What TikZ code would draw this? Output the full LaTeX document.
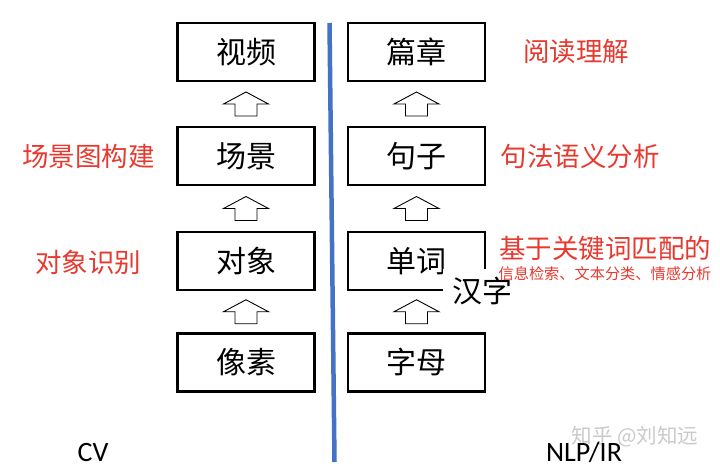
\documentclass[tikz,border=0pt]{standalone}
\usepackage{fontspec}
\newfontfamily\cjkfont{Noto Sans CJK SC}
\newfontfamily\latfont{Carlito}
\usetikzlibrary{calc}
\definecolor{lblred}{HTML}{E8392F}
\definecolor{divblue}{HTML}{4472C4}
\definecolor{wmgray}{HTML}{CACACA}
\begin{document}
\begin{tikzpicture}[x=1pt,y=-1pt,
  box/.style={draw=black, line width=2.3pt, minimum width=137pt, minimum height=58pt, inner sep=0pt,
    font=\cjkfont\fontsize{30}{32}\selectfont},
  lbl/.style={text=lblred, inner sep=0pt, font=\cjkfont\fontsize{26.5}{28}\selectfont},
  smalllbl/.style={text=lblred, inner sep=0pt, font=\cjkfont\fontsize{15.2}{16}\selectfont},
  axislbl/.style={inner sep=0pt, font=\latfont\fontsize{28}{30}\selectfont},
  arrowline/.style={draw=black, line width=0.9pt, fill=white, line join=miter},
  uparrow/.pic={\path[arrowline] (0,-12) -- (22.5,0) -- (11,0) -- (11,12) -- (-11,12) -- (-11,0) -- (-22.5,0) -- cycle;}
]
\useasboundingbox (0,0) rectangle (720,468);
\fill[white] (0,0) rectangle (720,468);

% divider
\coordinate (divtop) at (329.5,23);
\coordinate (divbot) at (334.5,462);
\draw[divblue, line width=4.5pt] (divtop) -- (divbot);

% left column
\node[box] (v)  at (246,52)    {视频};
\node[box] (s)  at (246,156)   {场景};
\node[box] (o)  at (246,261)   {对象};
\node[box] (p)  at (246,362.5) {像素};
% right column
\node[box] (c)  at (416.5,52)    {篇章};
\node[box] (j)  at (416.5,156)   {句子};
\node[box] (w)  at (416.5,261)   {单词};
\node[box] (l)  at (416.5,362.5) {字母};

% block arrows
\pic at ($(s.north)!0.5!(v.south)$) {uparrow};
\pic at ($(o.north)!0.5!(s.south)$) {uparrow};
\pic at ($(p.north)!0.5!(o.south)$) {uparrow};
\pic at ($(j.north)!0.5!(c.south)$) {uparrow};
\pic at ($(w.north)!0.5!(j.south)$) {uparrow};
\pic at ($(l.north)!0.5!(w.south)$) {uparrow};

% overlay label
\node[fill=white, inner xsep=9pt, inner ysep=8pt, font=\cjkfont\fontsize{30}{32}\selectfont] (hz) at (482,291) {汉字};

% red labels
\node[lbl] (lsg) at (88.5,156) {场景图构建};
\node[lbl] (lor) at (88,262)   {对象识别};
\node[lbl] (lrc) at (576,51)   {阅读理解};
\node[lbl] (lsy) at (580,156)  {句法语义分析};
\node[lbl] (lkw) at (605,248)  {基于关键词匹配的};
\node[smalllbl] (lir) at (605,274) {信息检索、文本分类、情感分析};

% watermark
\node[inner sep=0pt, text=wmgray, font=\cjkfont\fontsize{20.5}{22}\selectfont] (wm) at (635,437) {知乎 @刘知远};

% axis labels
\node[axislbl] (cv)  at (93,452.5)  {CV};
\node[axislbl] (nlp) at (584,452.5) {NLP/IR};
\end{tikzpicture}
\end{document}
